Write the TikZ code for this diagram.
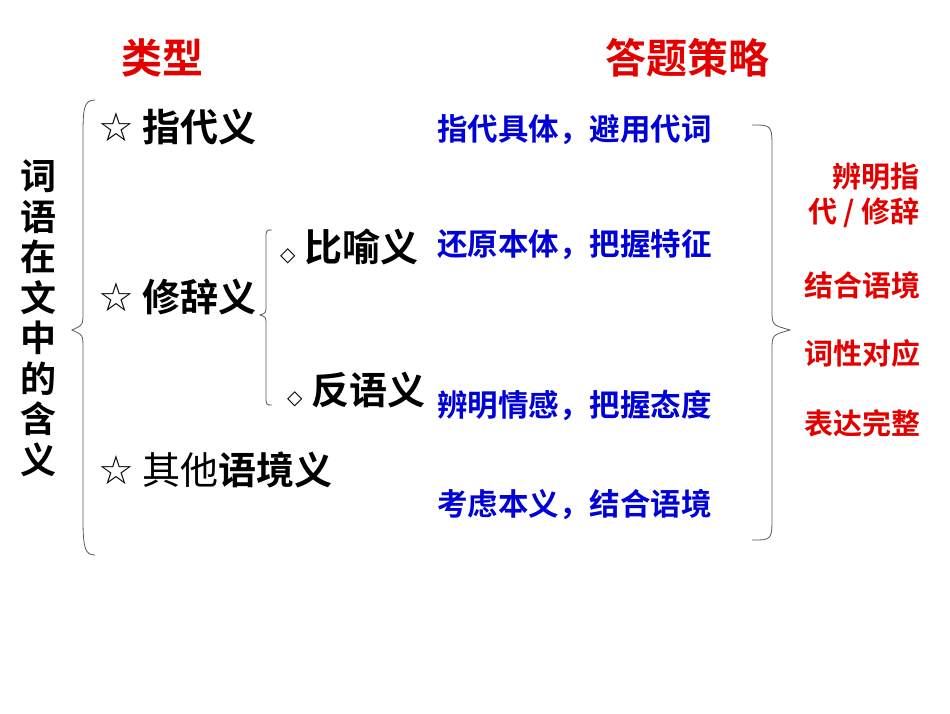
\documentclass[tikz,border=0pt]{standalone}
\usepackage{fontspec}
\newfontfamily\cjk{Noto Sans CJK SC}[BoldFont={Noto Sans CJK SC Bold}]
\newfontfamily\sym{DejaVu Sans}
\begin{document}
\begin{tikzpicture}[x=1pt,y=-1pt,
  title/.style={font=\cjk\bfseries\fontsize{41}{44}\selectfont,text=red!90!black,inner sep=0},
  kind/.style={font=\cjk\bfseries\fontsize{38}{40}\selectfont,inner sep=0,anchor=west},
  strat/.style={font=\cjk\bfseries\fontsize{30.5}{32}\selectfont,text=blue!85!black,inner sep=0,anchor=west},
  tip/.style={font=\cjk\bfseries\fontsize{29}{31}\selectfont,text=red!90!black,inner sep=0},
  br/.style={draw=gray!70!black,line width=0.8pt}]
\fill[white] (0,0) rectangle (950,713);
\node[title] (t1) at (162,58) {类型};
\node[title] (t2) at (687,58) {答题策略};
\node[font=\cjk\bfseries\fontsize{36}{40.5}\selectfont,inner sep=0,align=center] (v) at (38,318) {词\\语\\在\\文\\中\\的\\含\\义};
\draw[br] (95,100) .. controls (83,100) and (83,110) .. (83,140) -- (83,312) .. controls (83,325) .. (72,330) .. controls (83,335) .. (83,348) -- (83,520) .. controls (83,550) and (86,555) .. (95,555);
\node[kind] (k1) at (98,127) {{\sym\bfseries\fontsize{40}{40}\selectfont ☆} 指代义};
\node[kind] (k2) at (98,297) {{\sym\bfseries\fontsize{40}{40}\selectfont ☆} 修辞义};
\node[kind] (k3) at (98,470) {{\sym\bfseries\fontsize{40}{40}\selectfont ☆} {\mdseries 其他}语境义};
\draw[br] (272,230) .. controls (266,230) .. (266,240) -- (266,305) .. controls (266,313) .. (260,315) .. controls (266,317) .. (266,325) -- (266,395) .. controls (266,405) .. (272,405);
\node[kind] (s1) at (280,247) {{\sym\fontsize{20}{20}\selectfont ◇} 比喻义};
\node[kind] (s2) at (287,390) {{\sym\fontsize{20}{20}\selectfont ◇} 反语义};
\node[strat] (b1) at (437,130) {指代具体，避用代词};
\node[strat] (b2) at (437,245) {还原本体，把握特征};
\node[strat] (b3) at (437,405) {辨明情感，把握态度};
\node[strat] (b4) at (437,505) {考虑本义，结合语境};
\draw[br] (752,125) .. controls (772,125) .. (772,150) -- (772,310) .. controls (772,325) .. (790,330) .. controls (772,335) .. (772,350) -- (772,515) .. controls (772,540) .. (752,540);
\node[tip] (r1) at (876,177) {辨明指};
\node[tip] (r2) at (864,213) {代 / 修辞};
\node[tip] (r3) at (862,285) {结合语境};
\node[tip] (r4) at (862,353) {词性对应};
\node[tip] (r5) at (862,423) {表达完整};
\end{tikzpicture}
\end{document}
